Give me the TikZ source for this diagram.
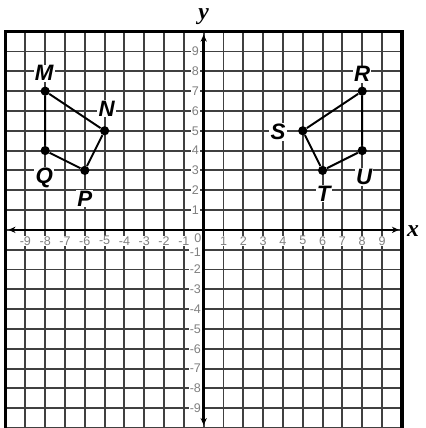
\documentclass[tikz,border=0pt]{standalone}
\usepackage{fontspec}
\setmainfont{Liberation Sans}
\newfontfamily\axisfont{Liberation Serif}
\usetikzlibrary{arrows.meta}
\begin{document}
\begin{tikzpicture}[x=0.5cm,y=0.5cm,
  gridline/.style={black!75, line width=1.4pt},
  axisline/.style={black, line width=1.8pt, {Stealth[length=5pt,width=4.5pt]}-{Stealth[length=5pt,width=4.5pt]}},
  frameline/.style={black, line width=2.4pt},
  ticklab/.style={font=\fontsize{9}{9}\selectfont, text=black!50, fill=white, inner sep=0.5pt},
  ptdot/.style={circle, fill=black, inner sep=0pt, minimum size=6.6pt},
  ptlab/.style={font=\fontsize{16}{16}\selectfont\bfseries\itshape, fill=white, inner sep=0.8pt},
  polyline/.style={black, line width=1.4pt},
  axlab/.style={font=\axisfont\fontsize{17}{17}\selectfont\bfseries\itshape}]
\useasboundingbox (-10.28,-10) rectangle (11.19,11.6);
\draw[gridline, step=0.5cm] (-10,-10) grid (10,10);
% tick labels
\foreach \k in {-9,...,-2,1,2,...,9} {
  \node[ticklab] (yt\k) at (-0.42,\k) {\k};
}
\foreach \k in {-9,...,-1,1,2,...,9} {
  \node[ticklab] (xt\k) at (\k,-0.55) {\k};
}
\node[ticklab] (yt-1) at (-0.42,-1.12) {-1};
\node[ticklab] (zero) at (-0.3,-0.42) {0};
% axes
\draw[axisline] (-9.85,0) -- (9.85,0);
\draw[axisline] (0,-9.85) -- (0,9.85);
% frame
\draw[frameline] (-10,-10.2) -- (-10,10) -- (10,10) -- (10,-10.2);
\node[axlab] (xl) at (10.57,-0.05) {x};
\node[axlab] (yl) at (0,10.75) {y};
% left quadrilateral
\node[ptdot] (M) at (-8,7) {};
\node[ptdot] (N) at (-5,5) {};
\node[ptdot] (P) at (-6,3) {};
\node[ptdot] (Q) at (-8,4) {};
\draw[polyline] (M) -- (N) -- (P) -- (Q) -- (M);
% right quadrilateral
\node[ptdot] (R) at (8,7) {};
\node[ptdot] (S) at (5,5) {};
\node[ptdot] (T) at (6,3) {};
\node[ptdot] (U) at (8,4) {};
\draw[polyline] (R) -- (S) -- (T) -- (U) -- (R);
% point labels
\node[ptlab] (lM) at (-8.05,7.9) {M};
\node[ptlab] (lN) at (-4.9,6.13) {N};
\node[ptlab] (lQ) at (-8.05,2.6) {Q};
\node[ptlab] (lP) at (-6.0,1.58) {P};
\node[ptlab] (lR) at (8.0,7.85) {R};
\node[ptlab] (lS) at (3.75,4.93) {S};
\node[ptlab] (lT) at (6.05,1.84) {T};
\node[ptlab] (lU) at (8.1,2.65) {U};
\end{tikzpicture}
\end{document}
